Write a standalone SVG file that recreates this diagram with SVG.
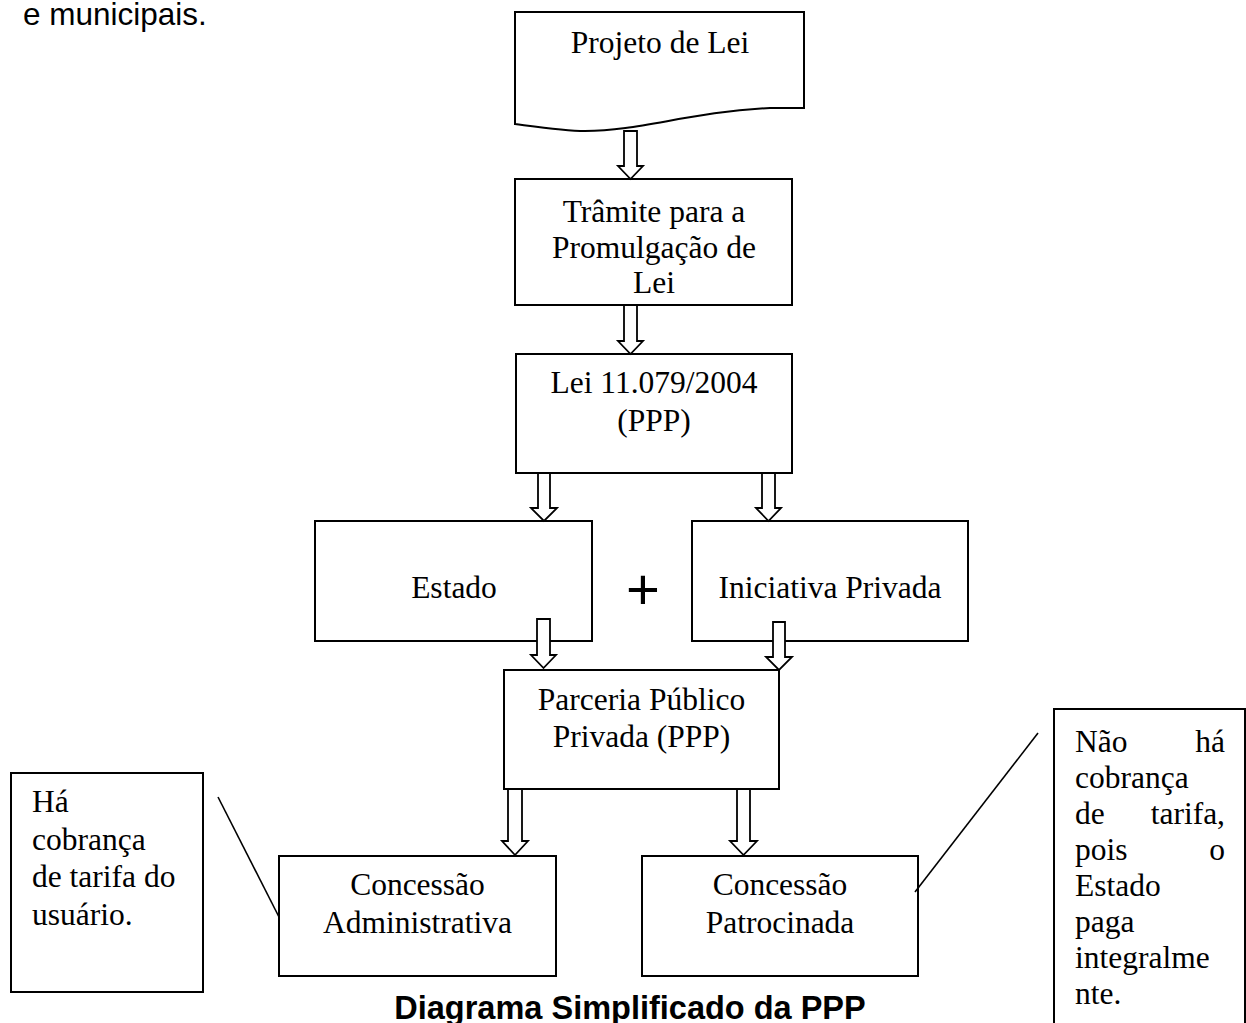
<svg xmlns="http://www.w3.org/2000/svg" width="1246" height="1023" viewBox="0 0 1246 1023">
<style>
.box{fill:#fff;stroke:#000;stroke-width:2}
.arr{fill:#fff;stroke:#000;stroke-width:1.8;stroke-linejoin:miter}
.ln{fill:none;stroke:#000;stroke-width:1.6}
.t{font-family:"Liberation Serif","Times New Roman",serif;font-size:31.5px;fill:#000}
.c{text-anchor:middle}
.e{text-anchor:end}
.s{font-family:"Liberation Sans",Arial,sans-serif;fill:#000}
</style>
<rect width="1246" height="1023" fill="#fff"/>
<text class="s" x="23" y="25" font-size="31.5">e municipais.</text>

<g id="projeto">
<path class="box" d="M515,12 H804 V108 L770,108 C690,112 640,131 585,131 C565,131 545,128 515,124 Z"/>
<text class="t c" x="660" y="53">Projeto de Lei</text>
</g>
<g id="tramite">
<rect class="box" x="515" y="179" width="277" height="126"/>
<text class="t c" x="654" y="222">Trâmite para a</text>
<text class="t c" x="654" y="258">Promulgação de</text>
<text class="t c" x="654" y="293">Lei</text>
</g>
<g id="lei">
<rect class="box" x="516" y="354" width="276" height="119"/>
<text class="t c" x="654" y="393">Lei 11.079/2004</text>
<text class="t c" x="654" y="431">(PPP)</text>
</g>
<g id="estado">
<rect class="box" x="315" y="521" width="277" height="120"/>
<text class="t c" x="454" y="598">Estado</text>
</g>
<g id="plus">
<text class="s c" x="643" y="609" font-size="58">+</text>
</g>
<g id="iniciativa">
<rect class="box" x="692" y="521" width="276" height="120"/>
<text class="t c" x="830" y="598">Iniciativa Privada</text>
</g>
<g id="parceria">
<rect class="box" x="504" y="670" width="275" height="119"/>
<text class="t c" x="641.5" y="710">Parceria Público</text>
<text class="t c" x="641.5" y="747">Privada (PPP)</text>
</g>
<g id="administrativa">
<rect class="box" x="279" y="856" width="277" height="120"/>
<text class="t c" x="417.5" y="895">Concessão</text>
<text class="t c" x="417.5" y="933">Administrativa</text>
</g>
<g id="patrocinada">
<rect class="box" x="642" y="856" width="276" height="120"/>
<text class="t c" x="780" y="895">Concessão</text>
<text class="t c" x="780" y="933">Patrocinada</text>
</g>
<g id="nota-esquerda">
<rect class="box" x="11" y="773" width="192" height="219"/>
<text class="t" x="32" y="812">Há</text>
<text class="t" x="32" y="850">cobrança</text>
<text class="t" x="32" y="887">de tarifa do</text>
<text class="t" x="32" y="925">usuário.</text>
</g>
<g id="nota-direita">
<rect class="box" x="1054" y="709" width="191" height="330"/>
<text class="t" x="1075" y="752">Não</text><text class="t e" x="1225" y="752">há</text>
<text class="t" x="1075" y="788">cobrança</text>
<text class="t" x="1075" y="824">de</text><text class="t e" x="1225" y="824">tarifa,</text>
<text class="t" x="1075" y="860">pois</text><text class="t e" x="1225" y="860">o</text>
<text class="t" x="1075" y="896">Estado</text>
<text class="t" x="1075" y="932">paga</text>
<text class="t" x="1075" y="968">integralme</text>
<text class="t" x="1075" y="1004">nte.</text>
</g>

<g id="connectors">
<path class="arr" d="M624,131 H637 V166 H643 L630.5,179 L618,166 H624 Z"/>
<path class="arr" d="M624,305 H637 V341 H643 L630.5,354 L618,341 H624 Z"/>
<path class="arr" d="M538,473 H550 V508 H557 L544,521 L531,508 H538 Z"/>
<path class="arr" d="M762,473 H775 V508 H781 L768.5,521 L756,508 H762 Z"/>
<path class="arr" d="M537,619 H550 V655 H556 L543.5,668 L531,655 H537 Z"/>
<path class="arr" d="M773,622 H785 V657 H792 L779,670 L766,657 H773 Z"/>
<path class="arr" d="M508,789 H522 V841 H528 L515,855 L502,841 H508 Z"/>
<path class="arr" d="M737,789 H750 V841 H757 L743.5,855 L730,841 H737 Z"/>
<line class="ln" x1="218" y1="797" x2="279" y2="917"/>
<line class="ln" x1="1038" y1="733" x2="915" y2="892"/>
</g>

<text class="s c" x="630" y="1019" font-size="32.5" font-weight="bold">Diagrama Simplificado da PPP</text>
</svg>
